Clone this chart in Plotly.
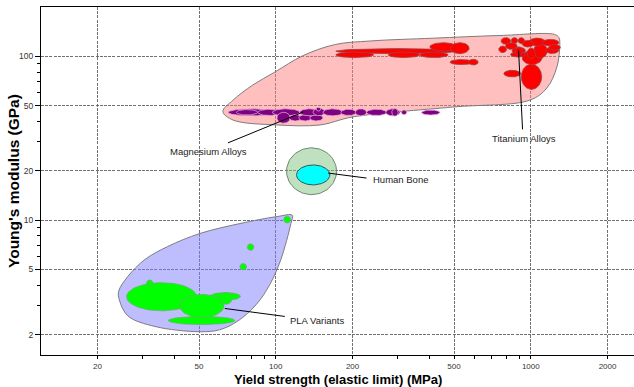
import numpy as np
import plotly.graph_objects as go

# Ashby-style material property chart: yield strength vs Young's modulus (log-log).
# Every bubble is a (low, high) range of strength in MPa and modulus in GPa.

# ---- axis ticks ----
x_ticks = [20, 50, 100, 200, 500, 1000, 2000]
x_minor = [30, 40, 60, 70, 80, 90, 300, 400, 600, 700, 800, 900]
y_ticks = [2, 5, 10, 20, 50, 100]
y_minor = [3, 4, 6, 7, 8, 9, 30, 40, 60, 70, 80, 90]
x_limits = [12, 2540]
y_limits = [1.5, 200]

# ---- family envelopes (outline points, MPa / GPa) ----
metal_env_strength = [62, 68, 81, 99, 128, 171, 234, 413, 757, 1240, 1290, 1300,
                      1266, 1156, 992, 495, 200, 149, 101, 68]
metal_env_modulus = [46, 54, 66.6, 80, 101, 118, 124, 129, 134, 136, 130, 120,
                     86, 64, 54, 49, 42.6, 38.1, 38.1, 40.8]

pla_env_strength = [116.1, 114.6, 104.7, 94.8, 84.0, 71.0, 60.3, 50.4, 33.6, 26.3,
                    24.3, 24.2, 26.3, 30.7, 37.7, 50.4, 72.3, 101]
pla_env_modulus = [10.7, 9.52, 5.75, 4.05, 3.06, 2.42, 2.14, 2.08, 2.24, 2.60,
                   3.29, 3.68, 4.53, 5.75, 6.90, 8.28, 9.52, 10.5]

bone_env_strength = (110.2, 173.1)
bone_env_modulus = (14.3, 27.6)

# ---- material bubbles ----
mg_strength = [(65, 98), (70, 85), (85, 105), (97, 124), (101, 114), (113, 126),
               (123, 138), (136, 153), (124, 149), (140, 156), (144, 150),
               (153, 183), (180, 207), (205, 227), (227, 272), (270, 307),
               (285, 302), (311, 326), (373, 440)]
mg_modulus = [(43.3, 47.8), (43.8, 47.3), (43.5, 47.5), (43.3, 47.8), (39.0, 45.5),
              (40.3, 44.0), (40.3, 44.0), (40.3, 44.0), (43.3, 47.8), (43.4, 48.1),
              (46.3, 48.8), (43.3, 47.8), (43.5, 47.5), (43.3, 47.8), (43.5, 47.5),
              (43.3, 47.8), (43.1, 48.0), (44.0, 47.0), (43.8, 47.0)]

ti_strength = [(172, 527), (172, 242), (276, 367), (367, 474), (402, 512),
               (485, 573), (482, 594), (570, 622),
               (918, 1103), (784, 911), (925, 1108), (1027, 1160), (968, 1043),
               (982, 1142), (1108, 1288), (1142, 1288), (1177, 1307), (925, 1027),
               (765, 833), (838, 889), (892, 945), (749, 803), (796, 884),
               (845, 953), (833, 953), (871, 925)]
ti_modulus = [(103.8, 111.4), (98.2, 106.2), (98.2, 106.2), (98.2, 106.2),
              (107.7, 121.1), (103.8, 121.1), (89.0, 95.5), (88.5, 95.9),
              (62.8, 89.5), (74.8, 82.2), (89.0, 108.8), (97.65, 119.5),
              (96.8, 112.3), (115.5, 129.2), (115.5, 126.9), (104.0, 113.9),
              (108.8, 117.8), (113.9, 125.1), (118.3, 129.9), (119.5, 130.0),
              (119.5, 130.0), (105.3, 115.5), (110.3, 121.1), (102.4, 113.9),
              (99.0, 106.2), (101.4, 113.9)]

pla_strength = [(26.0, 48.9), (31.1, 33.0), (37.9, 69.1), (55.1, 72.7), (42.0, 62.6),
                (60.3, 67.4), (72.3, 76.8), (77.3, 82.0), (107.4, 114.3)]
pla_modulus = [(2.79, 4.15), (3.92, 4.31), (2.30, 2.58), (3.24, 3.61), (2.54, 3.52),
               (3.06, 3.61), (4.96, 5.43), (6.53, 7.16), (9.59, 10.57)]

bone_strength = (120.6, 162.9)
bone_modulus = (16.4, 21.7)

# ---- labels and leader lines ----
label_text = ["Magnesium Alloys", "Titanium Alloys", "Human Bone", "PLA Variants"]
label_strength = [54.6, 939, 236, 111.8]
label_modulus = [26.2, 31.6, 17.8, 2.43]
label_anchor = ["center", "center", "left", "left"]
leader_strength = [(64.9, 128.1), (928.5, 895.5), (160.5, 226.9), (63.1, 108.5)]
leader_modulus = [(29.6, 45.7), (35.8, 108.8), (19.36, 18.05), (2.886, 2.58)]

FONT = "Arial, Liberation Sans, sans-serif"


def ellipse(srange, mrange, n=90):
    """Ellipse spanning a strength range and a modulus range, round in log space."""
    lx = np.log10(srange)
    ly = np.log10(mrange)
    cx, rx = lx.mean(), (lx[1] - lx[0]) / 2
    cy, ry = ly.mean(), (ly[1] - ly[0]) / 2
    t = np.linspace(0, 2 * np.pi, n)
    return 10 ** (cx + rx * np.cos(t)), 10 ** (cy + ry * np.sin(t))


def closed(vals):
    return list(vals) + [vals[0]]


fig = go.Figure()


def add_shape_trace(xs, ys, fill, line_color, line_width, spline=False):
    fig.add_trace(go.Scatter(
        x=xs, y=ys, mode="lines", fill="toself", fillcolor=fill,
        line=dict(color=line_color, width=line_width,
                  shape="spline" if spline else "linear", smoothing=1.0),
        hoverinfo="skip", showlegend=False))


# envelopes (translucent so the grid reads through them)
add_shape_trace(closed(metal_env_strength), closed(metal_env_modulus),
                "rgba(255,128,128,0.5)", "rgb(125,125,125)", 1, spline=True)
add_shape_trace(closed(pla_env_strength), closed(pla_env_modulus),
                "rgba(125,125,255,0.5)", "rgb(125,125,125)", 1, spline=True)
bx, by = ellipse(bone_env_strength, bone_env_modulus)
add_shape_trace(bx, by, "rgba(130,195,130,0.5)", "rgb(110,135,110)", 1)

# material bubbles
for s, m in zip(mg_strength, mg_modulus):
    ex, ey = ellipse(s, m)
    add_shape_trace(ex, ey, "rgb(128,0,128)", "rgb(215,165,215)", 0.8)
for s, m in zip(ti_strength, ti_modulus):
    ex, ey = ellipse(s, m)
    add_shape_trace(ex, ey, "rgb(255,0,0)", "rgb(150,70,70)", 0.8)
for s, m in zip(pla_strength, pla_modulus):
    ex, ey = ellipse(s, m)
    add_shape_trace(ex, ey, "rgb(0,255,0)", "rgb(110,170,110)", 0.7)
ex, ey = ellipse(bone_strength, bone_modulus)
add_shape_trace(ex, ey, "rgb(0,255,255)", "rgb(60,80,90)", 1)

# leader lines
for s, m in zip(leader_strength, leader_modulus):
    fig.add_trace(go.Scatter(x=list(s), y=list(m), mode="lines",
                             line=dict(color="black", width=1),
                             hoverinfo="skip", showlegend=False))

annotations = []
for txt, s, m, anc in zip(label_text, label_strength, label_modulus, label_anchor):
    annotations.append(dict(x=np.log10(s), y=np.log10(m), xref="x", yref="y",
                            text=txt, showarrow=False, xanchor=anc, yanchor="middle",
                            font=dict(family=FONT, size=9.5, color="#222")))

annotations.append(dict(x=0.5, y=0, xref="paper", yref="paper", yshift=-24,
                        text="<b>Yield strength (elastic limit) (MPa)</b>",
                        showarrow=False, xanchor="center", yanchor="middle",
                        font=dict(family=FONT, size=13, color="black")))
annotations.append(dict(x=0, y=0.5, xref="paper", yref="paper", xshift=-28,
                        text="<b>Young's modulus (GPa)</b>", textangle=-90,
                        showarrow=False, xanchor="center", yanchor="middle",
                        font=dict(family=FONT, size=15.5, color="black")))

grid = dict(showgrid=True, gridcolor="rgb(112,112,112)", griddash="3px,1.2px",
            gridwidth=1.4)

fig.update_layout(
    width=634, height=387,
    margin=dict(l=41, r=0, t=7, b=32),
    paper_bgcolor="white", plot_bgcolor="white",
    showlegend=False, hovermode=False,
    annotations=annotations,
    xaxis=dict(type="log", range=list(np.log10(x_limits)),
               tickmode="array", tickvals=x_ticks, ticktext=[str(v) for v in x_ticks],
               ticks="outside", ticklen=3, tickcolor="black",
               tickfont=dict(family=FONT, size=8, color="#333"),
               showline=True, linecolor="black", linewidth=1.2, mirror=True,
               minor=dict(tickmode="array", tickvals=x_minor, ticks="outside",
                          ticklen=2.5, tickcolor="black", showgrid=False),
               zeroline=False, **grid),
    yaxis=dict(type="log", range=list(np.log10(y_limits)),
               tickmode="array", tickvals=y_ticks, ticktext=[str(v) for v in y_ticks],
               ticks="outside", ticklen=5, tickcolor="black",
               tickfont=dict(family=FONT, size=8.5, color="#333"),
               showline=True, linecolor="black", linewidth=1.2,
               minor=dict(tickmode="array", tickvals=y_minor, ticks="outside",
                          ticklen=2.5, tickcolor="black", showgrid=False),
               zeroline=False, **grid),
)

fig.write_html("out.html")
